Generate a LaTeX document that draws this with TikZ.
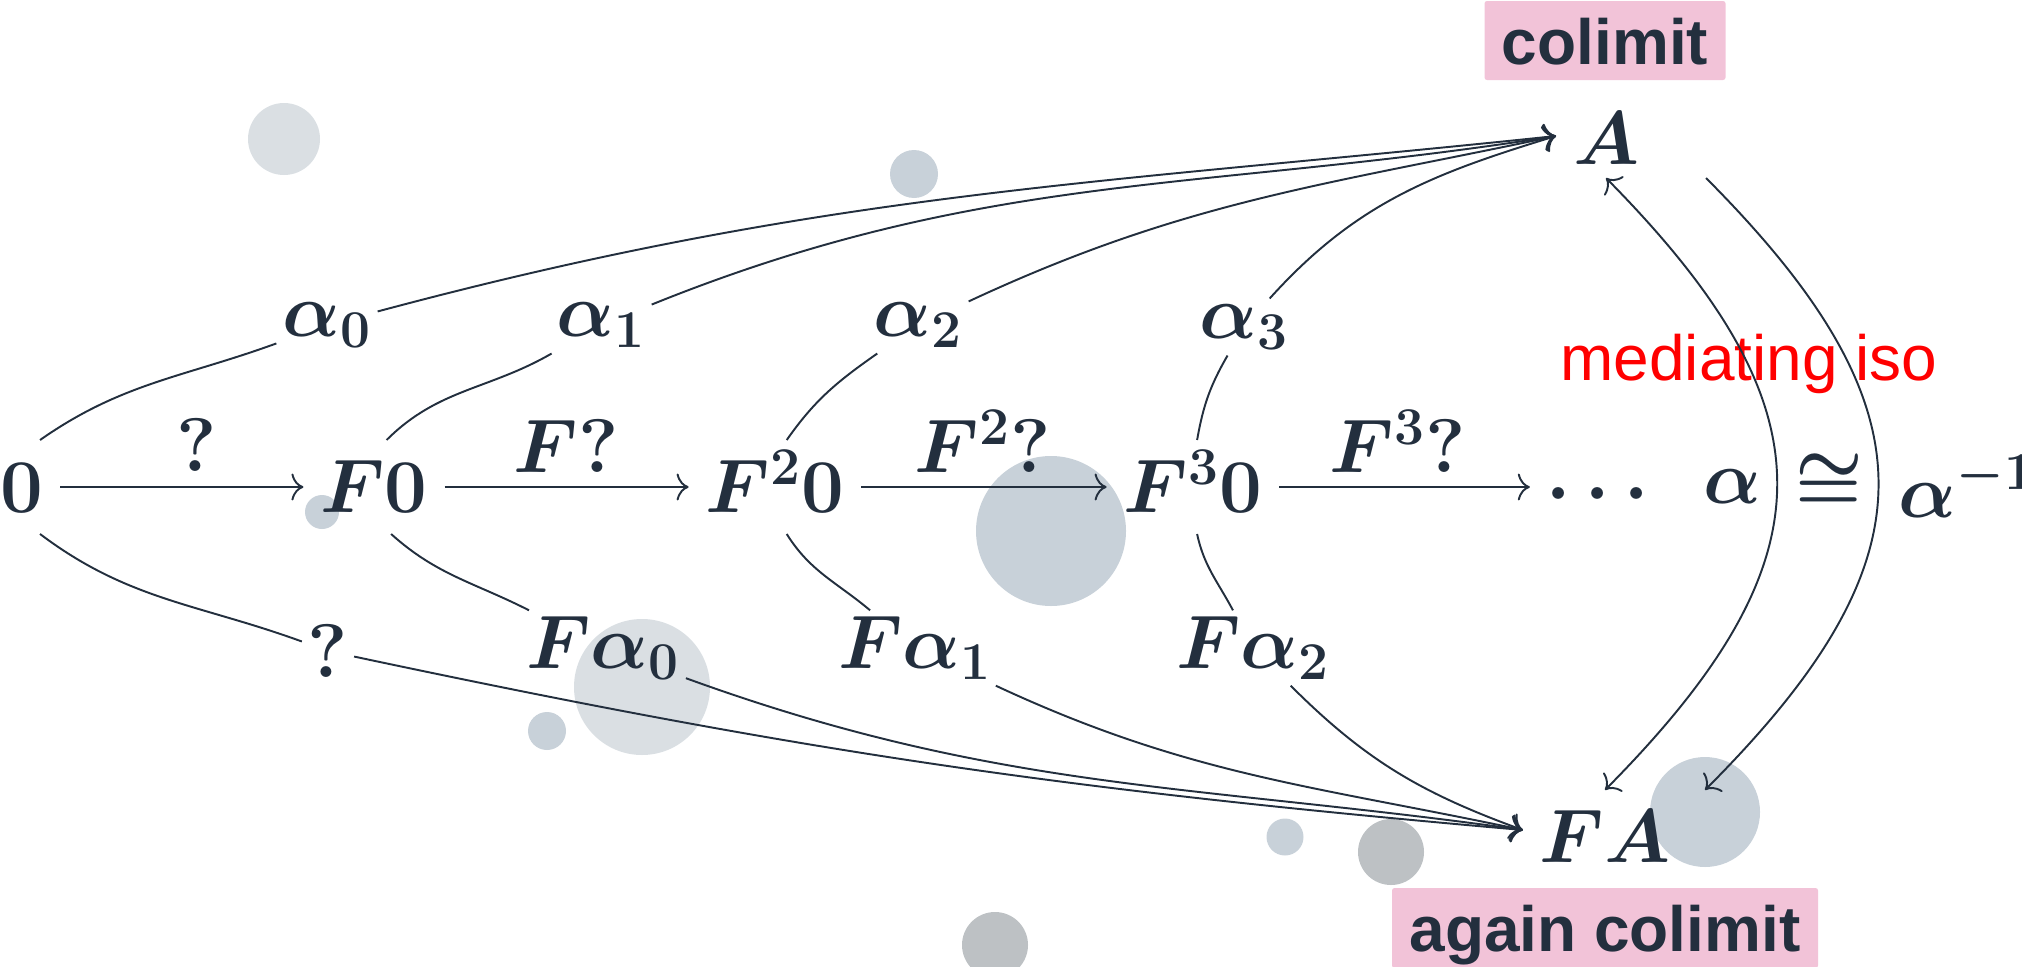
\RequirePackage{fix-cm}
\documentclass[tikz,border=0pt]{standalone}
\usepackage[no-math]{fontspec}
\newfontfamily\lib{Liberation Sans}
\usepackage{amsmath,amssymb}
\usetikzlibrary{arrows.meta}
\definecolor{ink}{HTML}{232F3E}
\definecolor{pinkbox}{HTML}{F2C3D8}
\definecolor{dotA}{HTML}{C8D1D9}
\definecolor{dotB}{HTML}{DADFE3}
\definecolor{dotC}{HTML}{BDC1C4}
\newcommand\cdmath{\fontsize{21.6}{26}\selectfont\boldmath}
\newcommand\tagfont{\lib\bfseries\fontsize{18.2}{22}\selectfont}
\tikzset{
  obj/.style={inner sep=0pt, outer sep=1.7mm, text height=5.5mm, text depth=0.5mm, font=\cdmath, text=ink},
  lab/.style={inner sep=0.5mm, font=\cdmath, text=ink},
  tagbox/.style={fill=pinkbox, rounded corners=0.25mm, font=\tagfont, text=ink, inner sep=0pt, text height=4.7mm, text depth=0mm},
  arr/.style={->},
}
\begin{document}
\begin{tikzpicture}[x=0.1mm, y=0.1mm, line width=0.55pt, draw=ink,
  >={Computer Modern Rightarrow[length=1.2mm,width=2.7mm]}]
\useasboundingbox (0,0) rectangle (2022,-966);
% background blobs
\fill[dotB] (284,-139) circle[radius=36];
\fill[dotA] (914,-174) circle[radius=24];
\fill[dotA] (322,-512) circle[radius=17];
\fill[dotA] (1051,-531) circle[radius=75];
\fill[dotB] (642,-687) circle[radius=68];
\fill[dotA] (547,-731) circle[radius=19];
\fill[dotA] (1285,-837) circle[radius=18.5];
\fill[dotC] (1391,-852) circle[radius=33];
\fill[dotA] (1705,-812) circle[radius=55];
\fill[dotC] (995,-945) circle[radius=33];
% tags
\node[tagbox, minimum width=24.1mm, minimum height=7.9mm] (tagA) at (1605,-40.5) {colimit};
\node[tagbox, minimum width=42.6mm, minimum height=8mm] (tagFA) at (1605,-928) {again colimit};
% objects
\node[obj] (n0) at (22,-487) {$0$};
\node[obj] (F0) at (374,-487) {$F0$};
\node[obj] (F20) at (775,-487) {$F^2 0$};
\node[obj] (F30) at (1193,-487) {$F^3 0$};
\node[obj] (dots) at (1605,-487) {$\cdots$};
\node[obj] (A) at (1606,-139) {$A$};
\node[obj] (FA) at (1605,-837) {$FA$};
\coordinate (Aw) at ([yshift=0.3mm]A.west);
\coordinate (FAw) at ([yshift=0.7mm]FA.west);
% horizontal labels
\node[lab, anchor=base] (q1) at (197,-471) {$?$};
\node[lab, anchor=base] (Fq) at (566,-472) {$F?$};
\node[lab, anchor=base] (F2q) at (983,-472) {$F^2?$};
\node[lab, anchor=base] (F3q) at (1398,-472) {$F^3?$};
% upper labels
\node[lab] (a0) at (327,-325) {$\alpha_0$};
\node[lab] (a1) at (601,-325) {$\alpha_1$};
\node[lab] (a2) at (918,-325) {$\alpha_2$};
\node[lab] (a3) at (1244,-327) {$\alpha_3$};
% lower labels
\node[lab] (q2) at (328,-651) {$?$};
\node[lab] (Fa0) at (603,-648) {$F\alpha_0$};
\node[lab] (Fa1) at (915,-648) {$F\alpha_1$};
\node[lab] (Fa2) at (1253,-648) {$F\alpha_2$};
% right labels
\node[lab, anchor=base] (al) at (1732,-503) {$\alpha$};
\node[lab] (cong) at (1829,-482) {$\cong$};
\node[lab, anchor=base west, inner sep=0pt] (ali) at (1898,-517) {$\alpha^{-1}$};
\node[anchor=base, text=red, font=\lib\fontsize{18.2}{22}\selectfont, inner sep=0pt] (med) at (1749,-380) {mediating iso};
% horizontal chain
\draw[arr] (n0) -- (F0);
\draw[arr] (F0) -- (F20);
\draw[arr] (F20) -- (F30);
\draw[arr] (F30) -- (dots);
% upper cocone
\draw (n0.69) to[out=35,in=200] (a0);
\draw[arr] (a0) to[out=15,in=186] (Aw);
\draw (F0.75) to[out=45,in=210] (a1);
\draw[arr] (a1) to[out=22,in=189] (Aw);
\draw (F20.76) to[out=55,in=215] (a2);
\draw[arr] (a2) to[out=25,in=192] (Aw);
\draw (F30.85) to[out=80,in=240] (a3);
\draw[arr] (a3) to[out=48,in=197] (Aw);
% lower cocone
\draw (n0.-69) to[out=-37,in=160] (q2);
\draw[arr] (q2) to[out=-12,in=175] (FAw);
\draw (F0.-70) to[out=-42,in=153] (Fa0);
\draw[arr] (Fa0) to[out=-20,in=172] (FAw);
\draw (F20.-76) to[out=-58,in=140] (Fa1);
\draw[arr] (Fa1) to[out=-25,in=168] (FAw);
\draw (F30.-85) to[out=-78,in=118] (Fa2);
\draw[arr] (Fa2) to[out=-45,in=160] (FAw);
% iso pair
\coordinate (Ai) at ([yshift=0.8mm]A.south);
\coordinate (Ao) at ([xshift=10mm]Ai);
\coordinate (Fi) at (FA.north);
\coordinate (Fo) at ([xshift=10mm]FA.north);
\draw[<->] (Ai) .. controls +(228,-231) and +(229,231) .. (Fi);
\draw[arr] (Ao) .. controls +(230,-231) and +(231,231) .. (Fo);
\end{tikzpicture}
\end{document}
